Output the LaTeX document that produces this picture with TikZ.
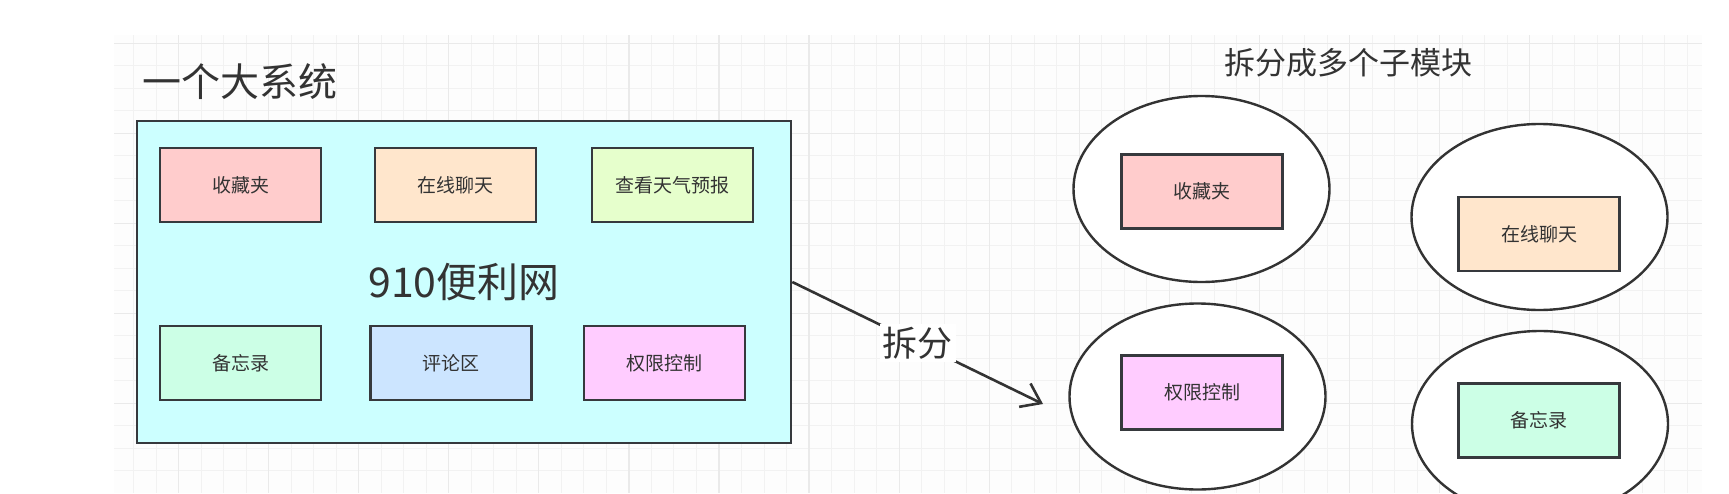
\documentclass[tikz,border=0pt]{standalone}
\usepackage{fontspec}
\setmainfont{Noto Sans CJK SC}
\usetikzlibrary{arrows.meta,shapes.geometric}
\definecolor{ink}{HTML}{333333}
\definecolor{edgec}{HTML}{36393D}
\definecolor{gridminor}{HTML}{F2F2F2}
\definecolor{gridmajor}{HTML}{EAEAEA}
\definecolor{gridbg}{HTML}{FDFDFD}
\definecolor{cpink}{HTML}{FFCCCC}
\definecolor{corange}{HTML}{FFE6CC}
\definecolor{clime}{HTML}{E6FFCC}
\definecolor{cmint}{HTML}{CCFFE6}
\definecolor{cblue}{HTML}{CCE5FF}
\definecolor{cmagenta}{HTML}{FFCCFF}
\definecolor{ccyan}{HTML}{CCFFFF}
\begin{document}
\begin{tikzpicture}[x=1pt,y=-1pt,
  modbox/.style={draw=edgec, line width=2.6pt, minimum width=161pt, minimum height=74pt, inner sep=0pt, text=ink, font=\fontsize{19}{19}\selectfont},
  sysbox/.style={draw=edgec, line width=2.6pt, fill=ccyan, minimum width=654pt, minimum height=322pt, inner sep=0pt, text=ink, font=\fontsize{41}{41}\selectfont},
  blob/.style={ellipse, draw=ink, line width=2.4pt, fill=white, minimum width=256pt, minimum height=186pt, inner sep=0pt},
  heading/.style={text=ink, inner sep=0pt},
  splitline/.style={draw=ink, line width=2.6pt, -{Straight Barb[length=18pt,width=26pt,line width=2.6pt]}}
]
\useasboundingbox (0,0) rectangle (1729,493);
\begin{scope}
\clip (0,0) rectangle (1729,493);
\fill[white] (0,0) rectangle (1729,493);
% grid background
\fill[gridbg] (114,35) rectangle (1702,493);
\foreach \i in {0,...,70} {
  \pgfmathsetmacro{\gx}{133.5+22.52*\i}
  \ifdim\gx pt<1702pt
    \draw[gridminor, line width=1pt] (\gx,35) -- (\gx,493);
  \fi
}
\foreach \i in {0,...,20} {
  \pgfmathsetmacro{\gy}{43.3+22.5*\i}
  \ifdim\gy pt<493pt
    \draw[gridminor, line width=1pt] (114,\gy) -- (1702,\gy);
  \fi
}
\foreach \i in {0,...,17} {
  \pgfmathsetmacro{\gx}{178.5+90.08*\i}
  \ifdim\gx pt<1702pt
    \draw[gridmajor, line width=1.2pt] (\gx,35) -- (\gx,493);
  \fi
}
\foreach \i in {0,...,5} {
  \pgfmathsetmacro{\gy}{43.3+90*\i}
  \ifdim\gy pt<493pt
    \draw[gridmajor, line width=1.2pt] (114,\gy) -- (1702,\gy);
  \fi
}

% titles
\node[heading, anchor=west, font=\fontsize{39}{39}\selectfont] (title) at (142,82) {一个大系统};
\node[heading, font=\fontsize{31}{31}\selectfont] (subtitle) at (1348,63) {拆分成多个子模块};

% big system
\node[sysbox] (sys) at (464,282) {910便利网};
\node[modbox, fill=cpink] (fav) at (240.5,185) {收藏夹};
\node[modbox, fill=corange] (chat) at (455.5,185) {在线聊天};
\node[modbox, fill=clime] (weather) at (672.5,185) {查看天气预报};
\node[modbox, fill=cmint] (memo) at (240.5,363) {备忘录};
\node[modbox, fill=cblue] (comment) at (451,363) {评论区};
\node[modbox, fill=cmagenta] (perm) at (664.5,363) {权限控制};

% split modules
\node[blob] (e1) at (1201.5,189) {};
\node[blob] (e2) at (1539.5,217) {};
\node[blob] (e3) at (1197.5,396.5) {};
\node[blob] (e4) at (1540,424) {};
\node[modbox, fill=cpink] (fav2) at (1202,191.5) {收藏夹};
\node[modbox, fill=corange] (chat2) at (1539,234) {在线聊天};
\node[modbox, fill=cmagenta] (perm2) at (1202,392.5) {权限控制};
\node[modbox, fill=cmint] (memo2) at (1539,420.5) {备忘录};

% arrow
\coordinate (tip) at (1043,404);
\draw[splitline] (sys.east) -- node[fill=white, inner sep=3pt, text=ink, font=\fontsize{35}{35}\selectfont] (splitlabel) {拆分} (tip);
\end{scope}
\end{tikzpicture}
\end{document}
